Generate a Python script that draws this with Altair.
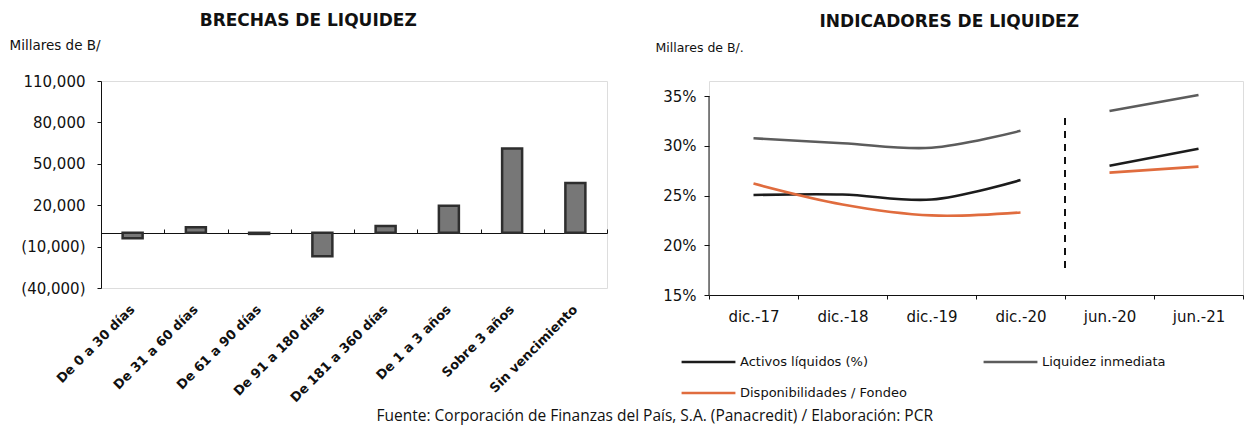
import altair as alt
import pandas as pd

# ---------------- data ----------------
plazos = ["De 0 a 30 días", "De 31 a 60 días", "De 61 a 90 días", "De 91 a 180 días",
          "De 181 a 360 días", "De 1 a 3 años", "Sobre 3 años", "Sin vencimiento"]
brechas = [-4000, 4000, -800, -17000, 5000, 19600, 61000, 36000]
y_ticks_left = [-40000, -10000, 20000, 50000, 80000, 110000]

periodos = ["dic.-17", "dic.-18", "dic.-19", "dic.-20", "jun.-20", "jun.-21"]
tramo = ["anual", "anual", "anual", "anual", "semestral", "semestral"]
activos = [0.2505, 0.2510, 0.2460, 0.2655, 0.2800, 0.2970]
liquidez = [0.3075, 0.3025, 0.2980, 0.3150, 0.3350, 0.3510]
disponib = [0.2620, 0.2410, 0.2300, 0.2330, 0.2730, 0.2790]
# legend order (column-major in a 2-column legend)
series = ["Activos líquidos (%)", "Disponibilidades / Fondeo", "Liquidez inmediata"]
series_colors = ["#1c1c1c", "#e06c3e", "#5c5c5c"]
y_ticks_right = [0.15, 0.20, 0.25, 0.30, 0.35]
y_axis_right_span = [0.15, 0.35]
divisor_periodo = ["jun.-20"]
divisor_y = [0.328]
divisor_y2 = [0.177]

FONT = "DejaVu Sans"

# ---------------- left chart ----------------
df_left = pd.DataFrame({"Plazo": plazos, "Brecha": brechas})
xscale_left = alt.Scale(domain=plazos, paddingInner=0, paddingOuter=0)

neg_fmt = ("datum.value < 0 ? '(' + format(-datum.value, ',') + ')' : format(datum.value, ',')")

bars = alt.Chart(df_left).mark_bar(
    color="#777777", stroke="#2e2e2e", strokeWidth=2.5, size=20
).encode(
    x=alt.X("Plazo:N", scale=xscale_left,
            axis=alt.Axis(orient="bottom", labelAngle=-45, domain=False, ticks=False,
                          labelFontSize=13, labelFontWeight="bold", labelFont=FONT,
                          labelColor="#111", labelPadding=19, labelAlign="right",
                          labelBaseline="middle", title=None)),
    y=alt.Y("Brecha:Q",
            scale=alt.Scale(domain=[-40000, 110000], nice=False, zero=False),
            axis=alt.Axis(values=y_ticks_left, labelExpr=neg_fmt, grid=False,
                          title="Millares de B/", titleAngle=0, titleX=-92, titleY=-36,
                          titleAlign="left", titleBaseline="middle", titleFontSize=13.5,
                          titleFontWeight="normal", titleFont=FONT, titleColor="#111",
                          labelFontSize=15, labelFont=FONT, labelColor="#111", labelPadding=12,
                          tickSize=4, tickColor="#111", domainColor="#111")),
)

zero_axis = alt.Chart(df_left).mark_bar(opacity=0).encode(
    x=alt.X("Plazo:N", scale=xscale_left,
            axis=alt.Axis(orient="top", offset=-152, labels=False, tickBand="extent",
                          tickSize=4, tickColor="#111", domainColor="#111", title=None)),
    y=alt.Y("Brecha:Q"),
)

left = alt.layer(bars, zero_axis).resolve_axis(x="independent").properties(
    width=506, height=207,
    title=alt.TitleParams("BRECHAS DE LIQUIDEZ", font=FONT, fontSize=17, fontWeight="bold",
                          color="#111", anchor="middle", frame="bounds", offset=8),
)

# ---------------- right chart ----------------
rows = []
for name, vals in zip(["Activos líquidos (%)", "Liquidez inmediata", "Disponibilidades / Fondeo"],
                      [activos, liquidez, disponib]):
    for p, t, v in zip(periodos, tramo, vals):
        rows.append({"Periodo": p, "Tramo": t, "Serie": name, "Valor": v})
df_right = pd.DataFrame(rows)

xscale_right = alt.Scale(domain=periodos, paddingInner=0, paddingOuter=0)
yscale_right = alt.Scale(domain=[0.15, 0.3651], nice=False, zero=False)

lines = alt.Chart(df_right).mark_line(interpolate="catmull-rom", strokeWidth=2.6).encode(
    x=alt.X("Periodo:N", scale=xscale_right,
            axis=alt.Axis(labelAngle=0, tickBand="extent", tickSize=4, tickColor="#111",
                          domainColor="#111", labelFontSize=15, labelFont=FONT,
                          labelColor="#111", labelPadding=10, title=None)),
    y=alt.Y("Valor:Q", scale=yscale_right,
            axis=alt.Axis(values=y_ticks_right, format=".0%", grid=False, domain=False,
                          title="Millares de B/.", titleAngle=0, titleX=-54, titleY=-34,
                          titleAlign="left", titleBaseline="middle", titleFontSize=12.5,
                          titleFontWeight="normal", titleFont=FONT, titleColor="#111",
                          labelFontSize=15, labelFont=FONT, labelColor="#111", labelPadding=8,
                          tickSize=5, tickColor="#111")),
    color=alt.Color("Serie:N", sort=series,
                    scale=alt.Scale(domain=series, range=series_colors),
                    legend=alt.Legend(orient="none", legendX=-29, legendY=273, columns=2,
                                      columnPadding=75, rowPadding=15, clipHeight=16,
                                      title=None, symbolType="stroke", symbolSize=2900,
                                      symbolStrokeWidth=2.6, labelFont=FONT,
                                      labelFontSize=13, labelColor="#111", labelOffset=3,
                                      labelLimit=300)),
    detail="Tramo:N",
)

df_axis = pd.DataFrame({"y": [y_axis_right_span[0]], "y2": [y_axis_right_span[1]]})
y_domain_line = alt.Chart(df_axis).mark_rule(color="#111", strokeWidth=1).encode(
    x=alt.value(0), y=alt.Y("y:Q", scale=yscale_right), y2="y2:Q"
)

df_div = pd.DataFrame({"Periodo": divisor_periodo, "y": divisor_y, "y2": divisor_y2})
divider = alt.Chart(df_div).mark_rule(color="#111", strokeWidth=2, strokeDash=[7, 6]).encode(
    x=alt.X("Periodo:N", scale=xscale_right, bandPosition=0),
    y=alt.Y("y:Q", scale=yscale_right),
    y2="y2:Q",
)

right = alt.layer(lines, y_domain_line, divider).properties(
    width=534, height=214,
    title=alt.TitleParams("INDICADORES DE LIQUIDEZ", font=FONT, fontSize=17, fontWeight="bold",
                          color="#111", anchor="middle", frame="bounds", offset=10),
)

chart = alt.hconcat(left, right, spacing=46).resolve_scale(color="independent").properties(
    padding={"left": 8, "top": 11, "right": 0, "bottom": 4},
    title=alt.TitleParams(
        "Fuente: Corporación de Finanzas del País, S.A. (Panacredit) / Elaboración: PCR",
        orient="bottom", anchor="start", dx=368, offset=4, font="Open Sans",
        fontSize=15.5, fontWeight="normal", color="#111"),
).configure_view(stroke=None).configure(background="white")

chart.save("out.html", embed_options={"renderer": "svg", "actions": False})
